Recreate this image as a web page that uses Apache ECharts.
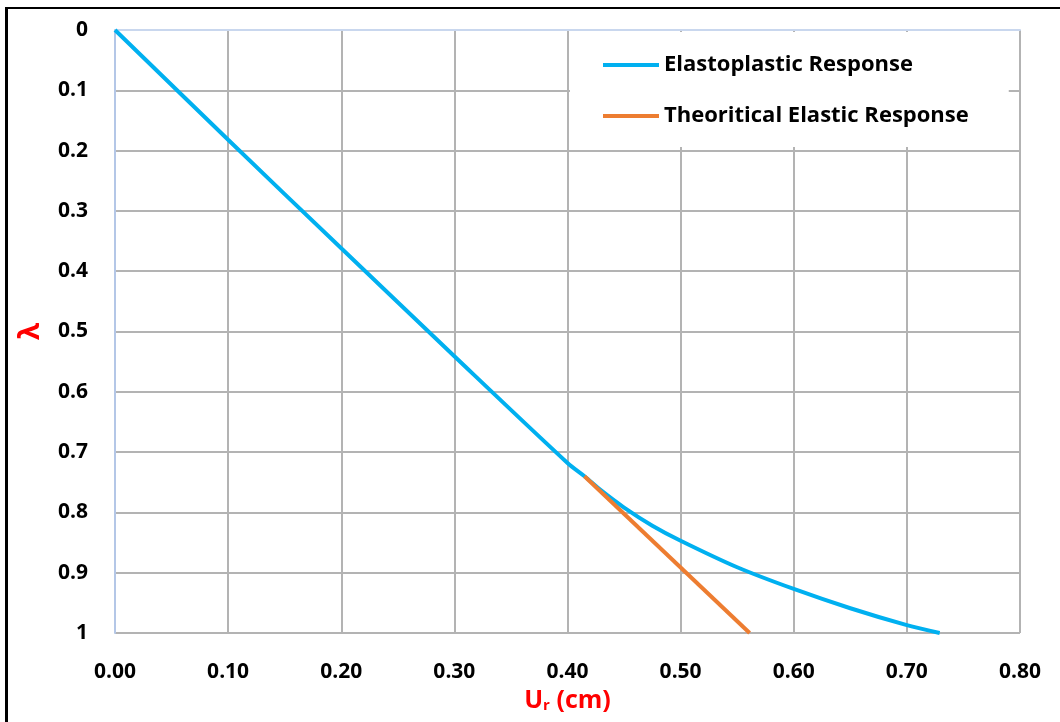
<!DOCTYPE html>
<html>
<head>
<meta charset="utf-8">
<script src="https://cdn.jsdelivr.net/npm/echarts@6/dist/echarts.min.js"></script>
<style>
  html, body { margin: 0; padding: 0; background: #fff; }
  #frame { position: absolute; left: 5px; top: 7px; right: 0; bottom: 0;
           border-top: 2px solid #000; border-left: 3px solid #000; }
  #main { position: absolute; left: 0; top: 0; width: 1060px; height: 722px; }
</style>
</head>
<body>
<div id="frame"></div>
<div id="main"></div>
<script>
// 数据 (Ur in cm, λ)
var elastoUr     = [0, 0.1, 0.2, 0.3, 0.4, 0.415, 0.43, 0.45, 0.475, 0.5, 0.55, 0.6, 0.65, 0.7, 0.729];
var elastoLambda = [0, 0.182, 0.362, 0.541, 0.718, 0.740, 0.764, 0.792, 0.822, 0.847, 0.891, 0.927, 0.959, 0.987, 1.0];
var elasticUr     = [0.415, 0.561];
var elasticLambda = [0.740, 1.0];
var seriesNames = ['Elastoplastic Response', 'Theoritical Elastic Response'];

function pairs(xs, ys) {
  var out = [];
  for (var i = 0; i < xs.length; i++) out.push([xs[i], ys[i]]);
  return out;
}

var myChart = echarts.init(document.getElementById('main'));
var font = '"Open Sans", "DejaVu Sans", sans-serif';

var option = {
  animation: false,
  textStyle: { fontFamily: font },
  grid: { left: 115, right: 40, top: 30, bottom: 89 },
  legend: {
    data: seriesNames,
    orient: 'vertical',
    left: 570,
    top: 32,
    padding: [22, 40, 20, 33],
    backgroundColor: '#fff',
    itemGap: 29,
    itemWidth: 56,
    itemHeight: 4,
    icon: 'rect',
    textStyle: { color: '#000', fontSize: 22, fontWeight: 'bold', fontFamily: font }
  },
  xAxis: [
    {
      type: 'value', position: 'bottom',
      min: 0, max: 0.8, interval: 0.1,
      name: 'U{sub|r} (cm)',
      nameLocation: 'middle',
      nameGap: 52,
      nameTextStyle: {
        color: '#ff0000', fontSize: 25, fontWeight: 'bold', fontFamily: font,
        rich: { sub: { color: '#ff0000', fontSize: 15, fontWeight: 'bold', fontFamily: font, verticalAlign: 'bottom', padding: [11, 0, 0, 0] } }
      },
      axisLine: { show: false },
      axisTick: { show: false },
      axisLabel: {
        margin: 29, color: '#000', fontSize: 21, fontWeight: 'bold', fontFamily: font,
        formatter: function (v) { return v.toFixed(2); }
      },
      splitLine: { show: true, showMinLine: false, lineStyle: { color: '#b3b3b3', width: 2 } }
    },
    {
      // 顶部浅蓝色坐标轴线
      type: 'value', position: 'top',
      min: 0, max: 0.8,
      axisLine: { show: true, lineStyle: { color: '#c9d7ee', width: 2 } },
      axisTick: { show: false },
      axisLabel: { show: false },
      splitLine: { show: false }
    }
  ],
  yAxis: {
    type: 'value', inverse: true,
    min: 0, max: 1, interval: 0.1,
    name: 'λ',
    nameLocation: 'middle',
    nameGap: 70,
    nameTextStyle: { color: '#ff0000', fontSize: 28, fontWeight: 'bold', fontFamily: font },
    axisLine: { show: true, lineStyle: { color: '#b4c7e7', width: 2 } },
    axisTick: { show: false },
    axisLabel: { margin: 27, color: '#000', fontSize: 21, fontWeight: 'bold', fontFamily: font },
    splitLine: { show: true, showMinLine: false, lineStyle: { color: '#b3b3b3', width: 2 } }
  },
  series: [
    {
      name: seriesNames[0],
      type: 'line',
      data: pairs(elastoUr, elastoLambda),
      smooth: 0.3,
      showSymbol: false,
      lineStyle: { color: '#00b0f0', width: 4 },
      itemStyle: { color: '#00b0f0' },
      z: 3
    },
    {
      name: seriesNames[1],
      type: 'line',
      data: pairs(elasticUr, elasticLambda),
      showSymbol: false,
      lineStyle: { color: '#ed7d31', width: 4 },
      itemStyle: { color: '#ed7d31' },
      z: 4
    }
  ]
};

myChart.setOption(option);
</script>
</body>
</html>
